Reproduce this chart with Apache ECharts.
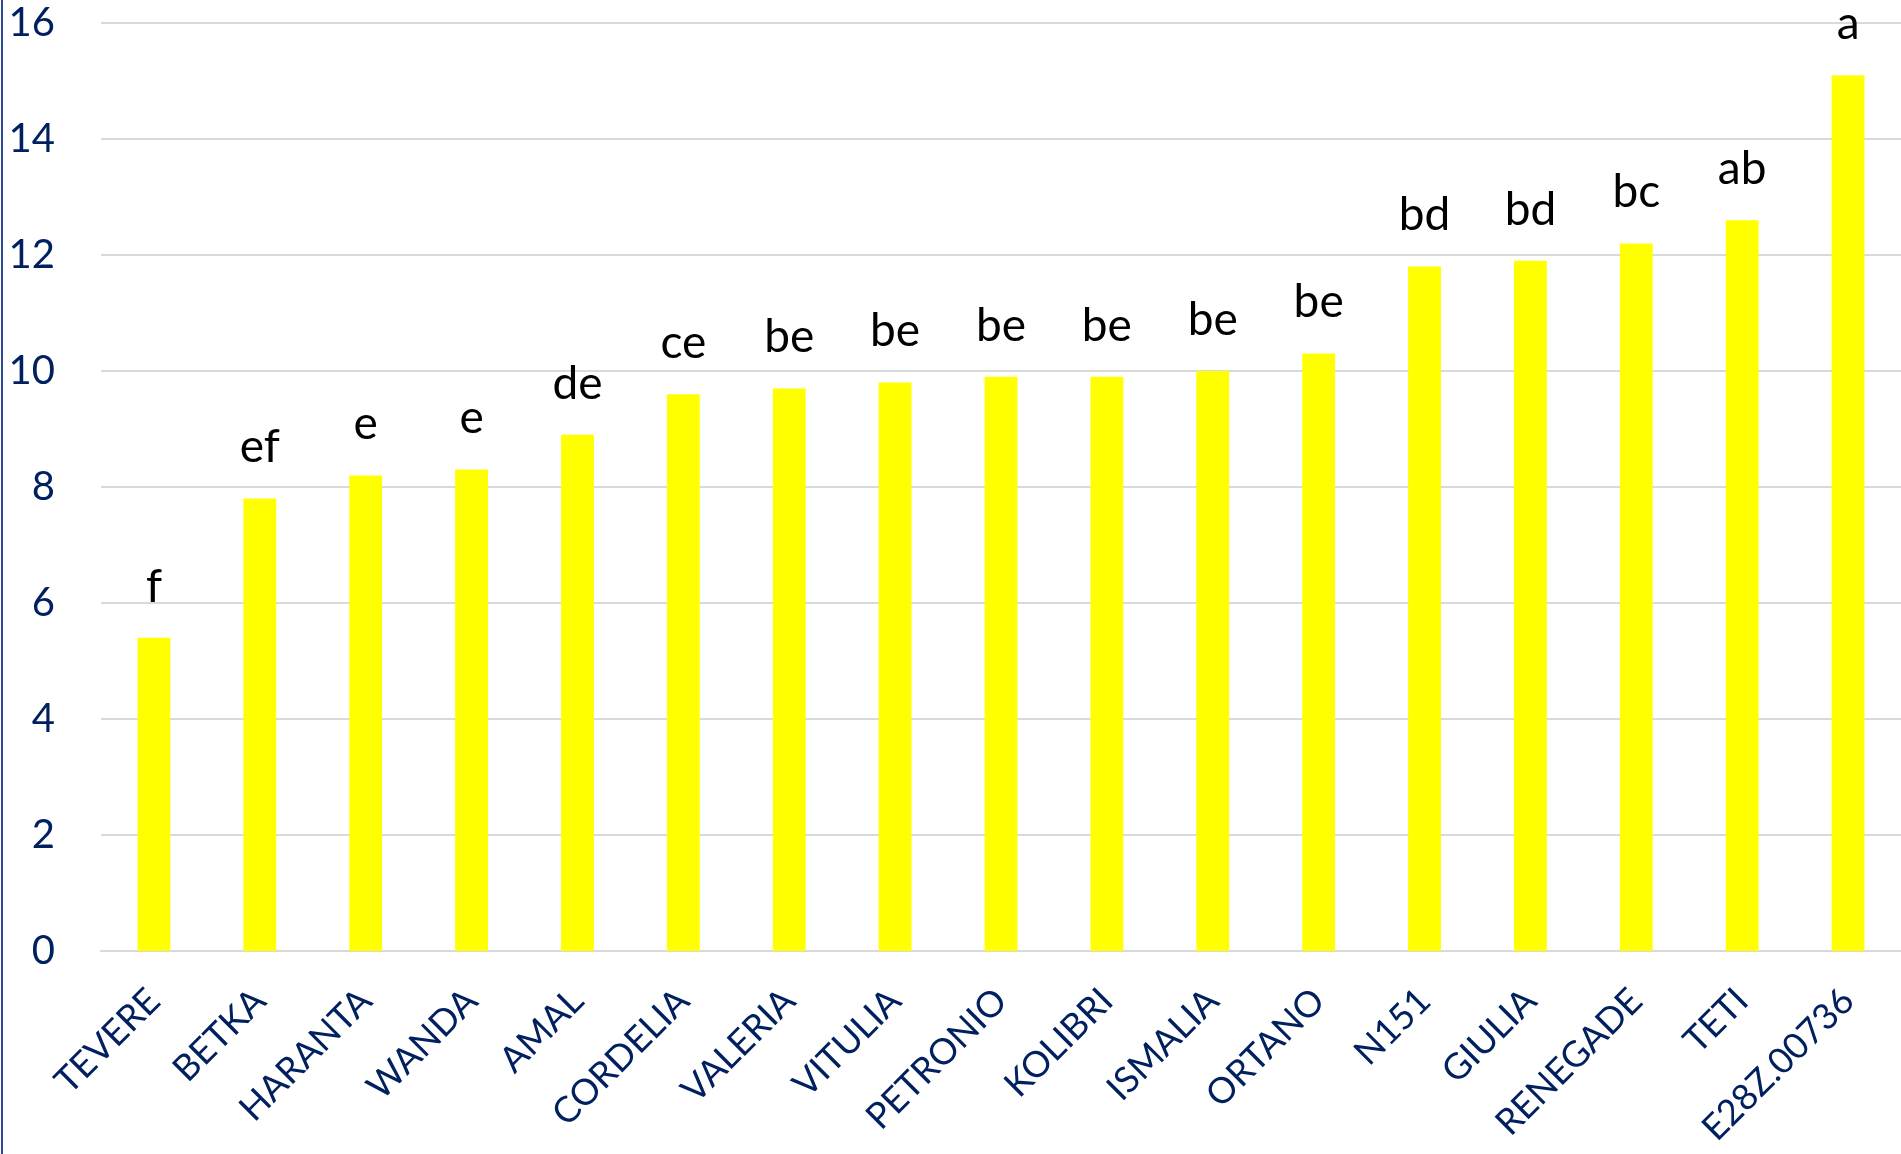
<!DOCTYPE html>
<html>
<head>
<meta charset="utf-8">
<script src="https://cdn.jsdelivr.net/npm/echarts@6/dist/echarts.min.js"></script>
<style>
  html, body { margin: 0; padding: 0; background: #fff; }
  #wrap { position: relative; width: 1901px; height: 1154px; }
  #edge { position: absolute; left: 1px; top: 0; width: 2px; height: 1154px; background: #2b4a96; }
  #chart { position: absolute; left: 0; top: 0; width: 1901px; height: 1154px; }
</style>
</head>
<body>
<div id="wrap">
  <div id="chart"></div>
  <div id="edge"></div>
</div>
<script>
// varieta
const categories = ['TEVERE', 'BETKA', 'HARANTA', 'WANDA', 'AMAL', 'CORDELIA', 'VALERIA', 'VITULIA',
  'PETRONIO', 'KOLIBRI', 'ISMALIA', 'ORTANO', 'N151', 'GIULIA', 'RENEGADE', 'TETI', 'E28Z.00736']
const values = [5.4, 7.8, 8.2, 8.3, 8.9, 9.6, 9.7, 9.8, 9.9, 9.9, 10.0, 10.3, 11.8, 11.9, 12.2, 12.6, 15.1]
// lettere di significativita
const letters = ['f', 'ef', 'e', 'e', 'de', 'ce', 'be', 'be', 'be', 'be', 'be', 'be', 'bd', 'bd', 'bc', 'ab', 'a']
const yTicks = [0, 2, 4, 6, 8, 10, 12, 14, 16]

const navy = '#002060'
const chart = echarts.init(document.getElementById('chart'))
chart.setOption({
  animation: false,
  grid: { left: 101, right: 0, top: 23, bottom: 203, containLabel: false },
  xAxis: {
    type: 'category',
    data: categories,
    axisTick: { show: false },
    axisLine: { lineStyle: { color: '#d9d9d9', width: 2 } },
    axisLabel: {
      interval: 0,
      rotate: 45,
      margin: 44,
      color: navy,
      fontFamily: 'Lato',
      fontSize: 36
    }
  },
  yAxis: {
    type: 'value',
    min: yTicks[0],
    max: yTicks[yTicks.length - 1],
    interval: 2,
    axisLine: { show: false },
    axisTick: { show: false },
    splitLine: { lineStyle: { color: '#d9d9d9', width: 2 } },
    axisLabel: {
      margin: 46,
      color: navy,
      fontFamily: 'Lato',
      fontSize: 40
    }
  },
  series: [{
    type: 'bar',
    data: values,
    barWidth: '31%',
    itemStyle: { color: '#ffff00' },
    label: {
      show: true,
      position: 'top',
      distance: 28,
      color: '#000',
      fontFamily: 'Lato',
      fontSize: 46,
      formatter: function (p) { return letters[p.dataIndex] }
    }
  }]
})
</script>
</body>
</html>
